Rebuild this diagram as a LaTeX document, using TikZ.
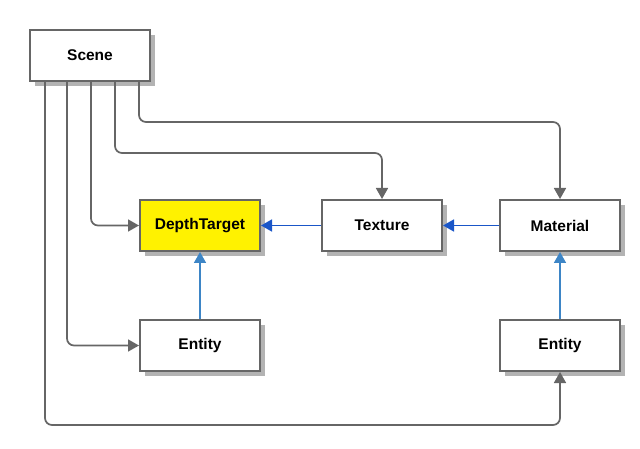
\documentclass[tikz,border=0pt]{standalone}
\usepackage{fontspec}
\setmainfont{Liberation Sans}
\usetikzlibrary{arrows.meta}
\definecolor{lgray}{HTML}{666666}
\definecolor{shad}{HTML}{B3B3B3}
\definecolor{dblue}{HTML}{1A56C8}
\definecolor{lblue}{HTML}{3D85C6}
\begin{document}
\begin{tikzpicture}[x=1pt,y=-1pt,
  box/.style={draw=lgray,line width=2pt,minimum width=120pt,minimum height=51pt,inner sep=0pt,font=\bfseries\fontsize{15.5}{18}\selectfont,
    fill=white,preaction={draw=none,fill=shad,transform canvas={shift={(5pt,-5pt)}}}},
  conn/.style={draw=lgray,line width=1.7pt,rounded corners=7pt,-{Triangle[length=11pt,width=12pt]}},
  bconn/.style={draw=dblue,line width=1.7pt,-{Triangle[length=11pt,width=12pt]}},
  lconn/.style={draw=lblue,line width=1.7pt,-{Triangle[length=11pt,width=12pt]}}]
\useasboundingbox (0,0) rectangle (640,449);
\node[box] (scene) at (90,55.5) {Scene};
\node[box,fill=yellow] (depth) at (200,225.5) {DepthTarget};
\node[box] (tex) at (382,225.5) {Texture};
\node[box] (mat) at (560,225.5) {Material};
\node[box] (ent1) at (200,345.5) {Entity};
\node[box] (ent2) at (560,345.5) {Entity};
\coordinate (s1) at (45,0 |- scene.south);
\coordinate (s2) at (67,0 |- scene.south);
\coordinate (s3) at (91,0 |- scene.south);
\coordinate (s4) at (115,0 |- scene.south);
\coordinate (s5) at (139,0 |- scene.south);
\draw[conn] (s1) -- (45,425) -| (ent2.south);
\draw[conn] (s2) |- (ent1.west);
\draw[conn] (s3) |- (depth.west);
\draw[conn] (s4) |- (382,153) -- (tex.north);
\draw[conn] (s5) |- (560,122) -- (mat.north);
\draw[bconn] (tex.west) -- (depth.east);
\draw[bconn] (mat.west) -- (tex.east);
\draw[lconn] (ent1.north) -- (depth.south);
\draw[lconn] (ent2.north) -- (mat.south);
\end{tikzpicture}
\end{document}
